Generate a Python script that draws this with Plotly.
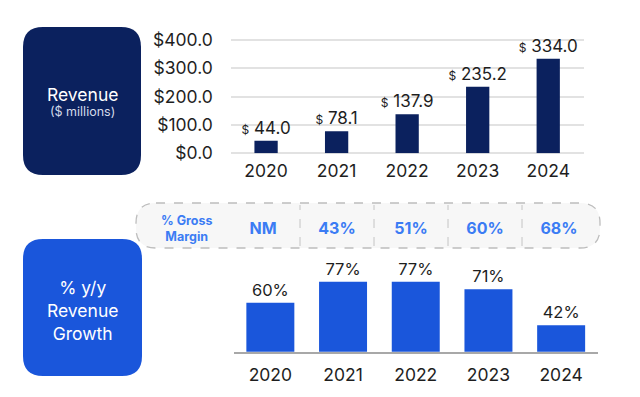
import plotly.graph_objects as go

# ---- data ----
years = ["2020", "2021", "2022", "2023", "2024"]
revenue = [44.0, 78.1, 137.9, 235.2, 334.0]
growth = [60, 77, 77, 71, 42]
gross_margin = ["NM", "43%", "51%", "60%", "68%"]
rev_ticks = [0, 100, 200, 300, 400]
rev_tick_labels = ["$0.0", "$100.0", "$200.0", "$300.0", "$400.0"]

W, H = 640, 397


def px(x):
    return x / W


def py(y):
    return 1 - y / H


NAVY = "#0B215E"
BLUE = "#1A56DB"
MBLUE = "#3B7CF4"
TEXT = "#1E1E1E"
FONT = "Inter"


def rrect(x0, y0, x1, y1, r):
    pts = [
        ("M", [(x0 + r, y0)]), ("L", [(x1 - r, y0)]), ("Q", [(x1, y0), (x1, y0 + r)]),
        ("L", [(x1, y1 - r)]), ("Q", [(x1, y1), (x1 - r, y1)]), ("L", [(x0 + r, y1)]),
        ("Q", [(x0, y1), (x0, y1 - r)]), ("L", [(x0, y0 + r)]), ("Q", [(x0, y0), (x0 + r, y0)]),
    ]
    s = ""
    for cmd, ps in pts:
        s += cmd + " " + " ".join(f"{px(a):.5f},{py(b):.5f}" for a, b in ps) + " "
    return s + "Z"


fig = go.Figure()

fig.add_trace(go.Bar(
    x=years, y=revenue, width=0.33, marker=dict(color=NAVY, line=dict(width=0)),
    text=[f"<span style='font-size:12px'>$</span> {v:.1f}" for v in revenue],
    textposition="outside", constraintext="none",
    textfont=dict(family=FONT, size=17, color=TEXT),
    cliponaxis=False, xaxis="x", yaxis="y", hoverinfo="skip", showlegend=False,
))

fig.add_trace(go.Bar(
    x=years, y=growth, width=0.66, marker=dict(color=BLUE, line=dict(width=0)),
    text=[f"{v}%" for v in growth],
    textposition="outside", constraintext="none",
    textfont=dict(family=FONT, size=16.5, color=TEXT),
    cliponaxis=True, xaxis="x2", yaxis="y2", hoverinfo="skip", showlegend=False,
))

fig.add_trace(go.Scatter(
    x=years, y=[0] * len(years), mode="text", text=gross_margin,
    textfont=dict(family=FONT, size=16, color=MBLUE, weight="bold"),
    xaxis="x3", yaxis="y3", hoverinfo="skip", showlegend=False,
))

shapes = [
    dict(type="path", xref="paper", yref="paper", path=rrect(23, 27, 141, 175, 20),
         fillcolor=NAVY, line=dict(width=0), layer="below"),
    dict(type="path", xref="paper", yref="paper", path=rrect(23, 239, 142, 376, 20),
         fillcolor=BLUE, line=dict(width=0), layer="below"),
    dict(type="path", xref="paper", yref="paper", path=rrect(136, 203, 600, 248, 20),
         fillcolor="#F7F7F7", line=dict(width=1.3, color="#BDBDBD", dash="dash"), layer="below"),
]
for i in range(len(years) - 1):
    shapes.append(dict(type="line", xref="x3", yref="paper", x0=i + 0.5, x1=i + 0.5,
                       y0=py(246), y1=py(205),
                       line=dict(width=1, color="#C4C4C4", dash="dash"), layer="below"))

annotations = [
    dict(text="Revenue", x=px(82), y=py(95), xref="paper", yref="paper", showarrow=False,
         xanchor="center", yanchor="middle",
         font=dict(family=FONT, size=17.5, color="white")),
    dict(text="($ millions)", x=px(82), y=py(112), xref="paper", yref="paper", showarrow=False,
         xanchor="center", yanchor="middle",
         font=dict(family=FONT, size=12.5, color="#D5DBEA")),
    dict(text="% y/y<br>Revenue<br>Growth", x=px(82.5), y=py(310), xref="paper", yref="paper",
         showarrow=False, xanchor="center", yanchor="middle",
         font=dict(family=FONT, size=17.5, color="white"), align="center"),
    dict(text="% Gross<br>Margin", x=px(187), y=py(229), xref="paper", yref="paper",
         showarrow=False, xanchor="center", yanchor="middle",
         font=dict(family=FONT, size=12.5, color=MBLUE, weight="bold"),
         align="center"),
]

fig.update_layout(
    width=W, height=H, margin=dict(l=0, r=0, t=0, b=0, pad=0, autoexpand=False),
    autosize=False,
    paper_bgcolor="white", plot_bgcolor="rgba(0,0,0,0)",
    font=dict(family=FONT, color=TEXT),
    shapes=shapes, annotations=annotations,
    xaxis=dict(domain=[px(230.8), px(583.5)], anchor="y", showgrid=False, showline=False,
               ticks="", tickfont=dict(size=17.5, color=TEXT), ticklabelstandoff=5,
               automargin=False, fixedrange=True),
    yaxis=dict(domain=[py(153.3), py(153.3 - 430 * 0.2833)], anchor="x", range=[0, 430],
               tickvals=rev_ticks, ticktext=rev_tick_labels, showgrid=True,
               gridcolor="#E2E2E2", gridwidth=1.5, zeroline=True, zerolinecolor="#E2E2E2",
               zerolinewidth=1.5, ticks="", tickfont=dict(size=17.5, color=TEXT),
               ticklabelstandoff=17, automargin=False, fixedrange=True),
    xaxis2=dict(domain=[px(234), px(597.5)], anchor="y2", showgrid=False, showline=True,
                linecolor="#A8A8A8", linewidth=2, ticks="",
                tickfont=dict(size=17.5, color=TEXT), ticklabelstandoff=6,
                automargin=False, fixedrange=True),
    yaxis2=dict(domain=[py(351.7), py(252)], anchor="x2",
                range=[20.8, 20.8 + (351.7 - 252) / 1.246], visible=False,
                automargin=False, fixedrange=True),
    xaxis3=dict(domain=[px(226), px(596)], anchor="y3", range=[-0.5, 4.5], visible=False,
                automargin=False, fixedrange=True),
    yaxis3=dict(domain=[py(250), py(210)], anchor="x3", range=[-1, 1], visible=False,
                automargin=False, fixedrange=True),
)

fig.write_html(
    "out.html",
    config={"displayModeBar": False},
    post_script="document.body.style.margin='0';document.body.style.overflow='hidden';",
)
